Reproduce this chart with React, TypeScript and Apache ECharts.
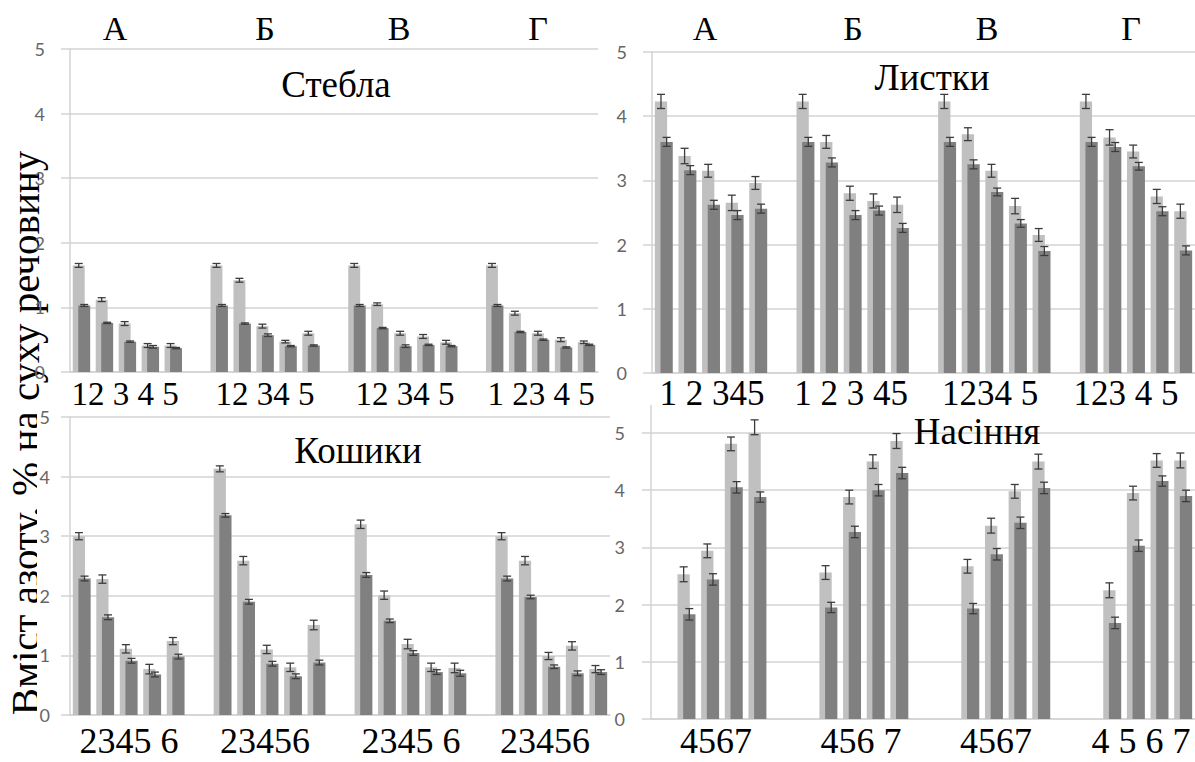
import React, { useEffect, useRef } from "react";
import * as echarts from "echarts";

// ---- data ----
const groupNames = ["А", "Б", "В", "Г"];
const panelTitles = ["Стебла", "Листки", "Кошики", "Насіння"];
const yAxisTitle = "Вміст азоту, % на суху речовину";

const stemTicks = ["12 3 4 5", "12 34 5", "12 34 5", "1 23 4 5"];
const leafTicks = ["1 2 345", "1 2 3 45", "1234 5", "123 4 5"];
const capTicks = ["2345 6", "23456", "2345 6", "23456"];
const seedTicks = ["4567", "456 7", "4567", "4 5 6 7"];

const yTicks = [0, 1, 2, 3, 4, 5];

// Стебла
const stemLight = [1.65, 1.12, 0.75, 0.41, 0.41, 1.65, 1.42, 0.71, 0.47, 0.6, 1.65, 1.05, 0.6, 0.55, 0.46, 1.65, 0.91, 0.6, 0.5, 0.46];
const stemDark = [1.03, 0.76, 0.47, 0.39, 0.37, 1.03, 0.75, 0.57, 0.4, 0.41, 1.03, 0.68, 0.4, 0.42, 0.4, 1.03, 0.62, 0.5, 0.38, 0.42];
const stemLightErr = [0.03, 0.03, 0.03, 0.03, 0.03, 0.03, 0.03, 0.03, 0.02, 0.03, 0.03, 0.02, 0.03, 0.03, 0.03, 0.03, 0.03, 0.03, 0.03, 0.02];
const stemDarkErr = [0.015, 0.01, 0.01, 0.02, 0.01, 0.015, 0.01, 0.02, 0.01, 0.01, 0.015, 0.01, 0.02, 0.01, 0.01, 0.015, 0.01, 0.01, 0.01, 0.01];

// Листки
const leafLight = [4.23, 3.38, 3.15, 2.65, 2.96, 4.23, 3.6, 2.8, 2.68, 2.62, 4.23, 3.72, 3.15, 2.6, 2.15, 4.23, 3.67, 3.45, 2.75, 2.52];
const leafDark = [3.6, 3.16, 2.62, 2.46, 2.56, 3.6, 3.28, 2.46, 2.53, 2.26, 3.6, 3.25, 2.82, 2.33, 1.9, 3.6, 3.52, 3.22, 2.52, 1.91];
const leafLightErr = [0.11, 0.12, 0.1, 0.12, 0.1, 0.11, 0.1, 0.11, 0.11, 0.12, 0.11, 0.1, 0.1, 0.12, 0.1, 0.11, 0.12, 0.1, 0.11, 0.11];
const leafDarkErr = [0.07, 0.07, 0.07, 0.07, 0.07, 0.07, 0.07, 0.07, 0.07, 0.07, 0.07, 0.07, 0.06, 0.06, 0.07, 0.07, 0.07, 0.06, 0.07, 0.07];

// Кошики
const capLight = [3.0, 2.28, 1.11, 0.77, 1.24, 4.13, 2.59, 1.1, 0.8, 1.51, 3.2, 2.01, 1.19, 0.8, 0.79, 3.0, 2.59, 0.99, 1.16, 0.77];
const capDark = [2.29, 1.64, 0.91, 0.68, 0.98, 3.35, 1.9, 0.86, 0.65, 0.88, 2.35, 1.58, 1.04, 0.72, 0.7, 2.29, 1.98, 0.81, 0.7, 0.72];
const capLightErr = [0.06, 0.07, 0.07, 0.08, 0.06, 0.05, 0.07, 0.07, 0.07, 0.08, 0.07, 0.07, 0.08, 0.07, 0.08, 0.06, 0.07, 0.06, 0.07, 0.06];
const capDarkErr = [0.04, 0.04, 0.04, 0.04, 0.04, 0.03, 0.04, 0.04, 0.04, 0.04, 0.04, 0.03, 0.04, 0.04, 0.05, 0.04, 0.03, 0.03, 0.04, 0.04];

// Насіння
const seedLight = [2.53, 2.94, 4.81, 5.1, 2.56, 3.88, 4.5, 4.86, 2.67, 3.38, 3.98, 4.5, 2.25, 3.95, 4.52, 4.52];
const seedDark = [1.83, 2.44, 4.05, 3.88, 1.95, 3.27, 4.0, 4.3, 1.93, 2.88, 3.43, 4.04, 1.68, 3.03, 4.16, 3.9];
const seedLightErr = [0.13, 0.12, 0.12, 0.13, 0.12, 0.12, 0.12, 0.13, 0.12, 0.13, 0.12, 0.13, 0.13, 0.12, 0.12, 0.13];
const seedDarkErr = [0.1, 0.1, 0.1, 0.09, 0.09, 0.1, 0.1, 0.1, 0.09, 0.1, 0.1, 0.1, 0.1, 0.1, 0.09, 0.1];

// ---- layout / style ----
const SLOTS_PER_GROUP = 6;
const N_CATS = 23;
const BAR_W = 0.52;
const BAR_GAP = -0.54;
const LIGHT = "#c0c0c0";
const DARK = "#808080";
const GRID_COLOR = "#d3d3d3";
const SERIF = "Liberation Serif";

const grids = [
  { left: 70, top: 49, width: 528, height: 323 },
  { left: 652, top: 52, width: 552, height: 321 },
  { left: 70, top: 417, width: 540, height: 298 },
  { left: 651, top: 433, width: 552, height: 286 },
];
const labelMargins = [25, 25, 20, 26];

function place(vals: number[], perGroup: number, startSlot: number) {
  const out: any[] = new Array(N_CATS).fill("-");
  vals.forEach((v, i) => {
    const g = Math.floor(i / perGroup);
    const s = i % perGroup;
    out[g * SLOTS_PER_GROUP + startSlot + s] = v;
  });
  return out;
}
function placeErr(vals: number[], errs: number[], perGroup: number, startSlot: number) {
  return vals.map((v, i) => {
    const g = Math.floor(i / perGroup);
    const s = i % perGroup;
    return [g * SLOTS_PER_GROUP + startSlot + s, v, errs[i]];
  });
}

function errRender(side: number) {
  return (params: any, api: any) => {
    const xi = api.value(0);
    const v = api.value(1);
    const e = api.value(2);
    const band = api.size([1, 0])[0];
    const bw = band * BAR_W;
    const off = (side * (bw * (1 + BAR_GAP))) / 2;
    const c = api.coord([xi, v]);
    const hi = api.coord([xi, v + e]);
    const lo = api.coord([xi, v - e]);
    const x = c[0] + off;
    const cap = 4;
    const style = { stroke: "#3c3c3c", lineWidth: 1.3 };
    return {
      type: "group",
      children: [
        { type: "line", shape: { x1: x, y1: hi[1], x2: x, y2: lo[1] }, style },
        { type: "line", shape: { x1: x - cap, y1: hi[1], x2: x + cap, y2: hi[1] }, style },
        { type: "line", shape: { x1: x - cap, y1: lo[1], x2: x + cap, y2: lo[1] }, style },
      ],
    };
  };
}

const panels = [
  { light: stemLight, dark: stemDark, le: stemLightErr, de: stemDarkErr, per: 5, start: 0 },
  { light: leafLight, dark: leafDark, le: leafLightErr, de: leafDarkErr, per: 5, start: 0 },
  { light: capLight, dark: capDark, le: capLightErr, de: capDarkErr, per: 5, start: 0 },
  { light: seedLight, dark: seedDark, le: seedLightErr, de: seedDarkErr, per: 4, start: 1 },
];

const categories = Array.from({ length: N_CATS }, (_, i) => groupNames[Math.floor(i / SLOTS_PER_GROUP)] + (i % SLOTS_PER_GROUP));

function text(x: number, y: number, t: string, size: number, extra: any = {}) {
  return {
    type: "text",
    x,
    y,
    silent: true,
    z: 10,
    ...extra,
    style: {
      text: t,
      fontSize: size,
      fontFamily: SERIF,
      fill: "#000",
      align: "center",
      verticalAlign: "middle",
    },
  };
}

export default function App() {
  const ref = useRef<HTMLDivElement>(null);
  useEffect(() => {
    if (!ref.current) return;
    const chart = echarts.init(ref.current, null, { renderer: "svg" });

    const xAxis = grids.map((_, k) => ({
      type: "category",
      gridIndex: k,
      data: categories,
      axisLine: { show: true, lineStyle: { color: GRID_COLOR, width: 1.5 } },
      axisTick: { show: false },
      axisLabel: { show: false },
      splitLine: { show: false },
    }));
    const yAxis = grids.map((_, k) => ({
      type: "value",
      gridIndex: k,
      min: yTicks[0],
      max: yTicks[yTicks.length - 1],
      interval: 1,
      axisLine: { show: true, lineStyle: { color: GRID_COLOR, width: 1.5 } },
      axisTick: { show: true, length: 9, lineStyle: { color: GRID_COLOR, width: 1.5 } },
      axisLabel: { color: "#666", fontSize: 18, fontFamily: "Lato", margin: labelMargins[k] },
      splitLine: { show: true, lineStyle: { color: GRID_COLOR, width: 1.5 } },
    }));

    const series: any[] = [];
    panels.forEach((p, k) => {
      series.push({
        type: "bar",
        xAxisIndex: k,
        yAxisIndex: k,
        data: place(p.light, p.per, p.start),
        barWidth: BAR_W * 100 + "%",
        barGap: BAR_GAP * 100 + "%",
        itemStyle: { color: LIGHT },
        silent: true,
        z: 2,
      });
      series.push({
        type: "bar",
        xAxisIndex: k,
        yAxisIndex: k,
        data: place(p.dark, p.per, p.start),
        barWidth: BAR_W * 100 + "%",
        barGap: BAR_GAP * 100 + "%",
        itemStyle: { color: DARK },
        silent: true,
        z: 2,
      });
      series.push({
        type: "custom",
        xAxisIndex: k,
        yAxisIndex: k,
        data: placeErr(p.light, p.le, p.per, p.start),
        renderItem: errRender(-1),
        silent: true,
        z: 3,
      });
      series.push({
        type: "custom",
        xAxisIndex: k,
        yAxisIndex: k,
        data: placeErr(p.dark, p.de, p.per, p.start),
        renderItem: errRender(1),
        silent: true,
        z: 4,
      });
    });

    const topLetterX = [[115, 265, 399, 538], [705, 853, 987, 1131]];
    const tickPos = [
      { labels: stemTicks, xs: [125, 265, 405, 541], y: 394, size: 33 },
      { labels: leafTicks, xs: [712, 851, 990, 1126], y: 393, size: 35 },
      { labels: capTicks, xs: [129, 265, 411, 545], y: 741, size: 36 },
      { labels: seedTicks, xs: [716, 861, 996, 1141], y: 741, size: 36 },
    ];
    const titlePos = [
      [336, 84],
      [932, 77],
      [358, 450],
      [977, 431],
    ];

    const graphics: any[] = [];
    graphics.push(text(25, 433, yAxisTitle, 41, { rotation: Math.PI / 2, z: -2 }));
    graphics.push({
      type: "rect",
      silent: true,
      z: -1,
      shape: { x: 37, y: 408, width: 573, height: 354 },
      style: { fill: "#fff" },
    });
    graphics.push({
      type: "line",
      silent: true,
      z: 1,
      shape: { x1: 651, y1: 405, x2: 651, y2: 433 },
      style: { stroke: GRID_COLOR, lineWidth: 1.5 },
    });
    topLetterX.forEach((xs) => xs.forEach((x, i) => graphics.push(text(x, 28, groupNames[i], 34))));
    tickPos.forEach((tp) => tp.labels.forEach((l, i) => graphics.push(text(tp.xs[i], tp.y, l, tp.size))));
    panelTitles.forEach((t, i) => graphics.push(text(titlePos[i][0], titlePos[i][1], t, 37)));

    chart.setOption({
      animation: false,
      backgroundColor: "#fff",
      textStyle: { fontFamily: SERIF },
      grid: grids.map((g) => ({ ...g, containLabel: false })),
      xAxis,
      yAxis,
      series,
      graphic: { elements: graphics },
    });
    return () => chart.dispose();
  }, []);

  return (
    <div
      ref={ref}
      style={{ position: "absolute", left: 0, top: 0, width: 1195, height: 762, background: "#fff", fontFamily: SERIF }}
    />
  );
}
